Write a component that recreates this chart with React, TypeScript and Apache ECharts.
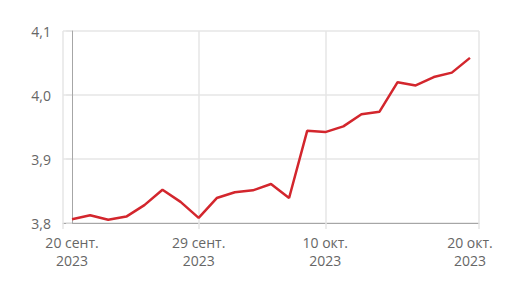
import React, { useEffect, useRef } from "react";
import * as echarts from "echarts";

const dates = [
  "2023-09-20", "2023-09-21", "2023-09-22", "2023-09-25", "2023-09-26", "2023-09-27",
  "2023-09-28", "2023-09-29", "2023-10-02", "2023-10-03", "2023-10-04", "2023-10-05",
  "2023-10-06", "2023-10-09", "2023-10-10", "2023-10-11", "2023-10-12", "2023-10-13",
  "2023-10-16", "2023-10-17", "2023-10-18", "2023-10-19", "2023-10-20",
];

const values = [
  3.806, 3.812, 3.805, 3.810, 3.828, 3.852, 3.833, 3.808, 3.839, 3.848, 3.851, 3.861,
  3.839, 3.944, 3.942, 3.951, 3.970, 3.974, 4.020, 4.015, 4.028, 4.035, 4.058,
];

const xLabelIndices = [0, 7, 14, 22];
const xLabelTexts = ["20 сент.\n2023", "29 сент.\n2023", "10 окт.\n2023", "20 окт.\n2023"];
const xTickPositions = [-0.5, 7, 14, 22.5];

const yMin = 3.8;
const yMax = 4.1;
const yStep = 0.1;

export default function App() {
  const ref = useRef<HTMLDivElement>(null);
  useEffect(() => {
    if (!ref.current) return;
    const chart = echarts.init(ref.current, undefined, { renderer: "svg" });
    const font = "'Open Sans', 'Noto Sans', sans-serif";
    chart.setOption({
      animation: false,
      grid: { left: 63, right: 37, top: 31, bottom: 67, containLabel: false },
      xAxis: {
        type: "value",
        min: -0.5,
        max: dates.length - 0.5,
        axisLine: { show: true, onZero: false, lineStyle: { color: "#a6a6a6", width: 1 } },
        axisTick: {
          show: true,
          customValues: xTickPositions,
          length: 6,
          lineStyle: { color: "#e6e6e6", width: 1.5 },
        },
        splitLine: { show: true, lineStyle: { color: "#e6e6e6", width: 1.5 } },
        axisLabel: {
          customValues: xLabelIndices,
          formatter: (v: number) => {
            const k = xLabelIndices.indexOf(Math.round(v));
            return k >= 0 ? xLabelTexts[k] : "";
          },
          color: "#666666",
          fontSize: 14,
          fontFamily: font,
          lineHeight: 18,
          margin: 10,
        },
      },
      yAxis: {
        type: "value",
        min: yMin,
        max: yMax,
        interval: yStep,
        axisLine: { show: true, lineStyle: { color: "#a6a6a6", width: 1 } },
        axisTick: { show: true, length: 6, lineStyle: { color: "#e6e6e6", width: 1.5 } },
        splitLine: { show: true, lineStyle: { color: "#e6e6e6", width: 1.5 } },
        axisLabel: {
          formatter: (v: number) => v.toFixed(1).replace(".", ","),
          color: "#666666",
          fontSize: 14,
          fontFamily: font,
          margin: 12,
        },
      },
      series: [
        {
          type: "line",
          data: values.map((v, i) => [i, v]),
          showSymbol: false,
          symbol: "none",
          lineStyle: { color: "#d3262d", width: 2.5 },
          itemStyle: { color: "#d3262d" },
        },
      ],
    });
    return () => chart.dispose();
  }, []);
  return (
    <div
      ref={ref}
      style={{ position: "fixed", left: 0, top: 0, width: 516, height: 290, background: "#fff" }}
    />
  );
}
